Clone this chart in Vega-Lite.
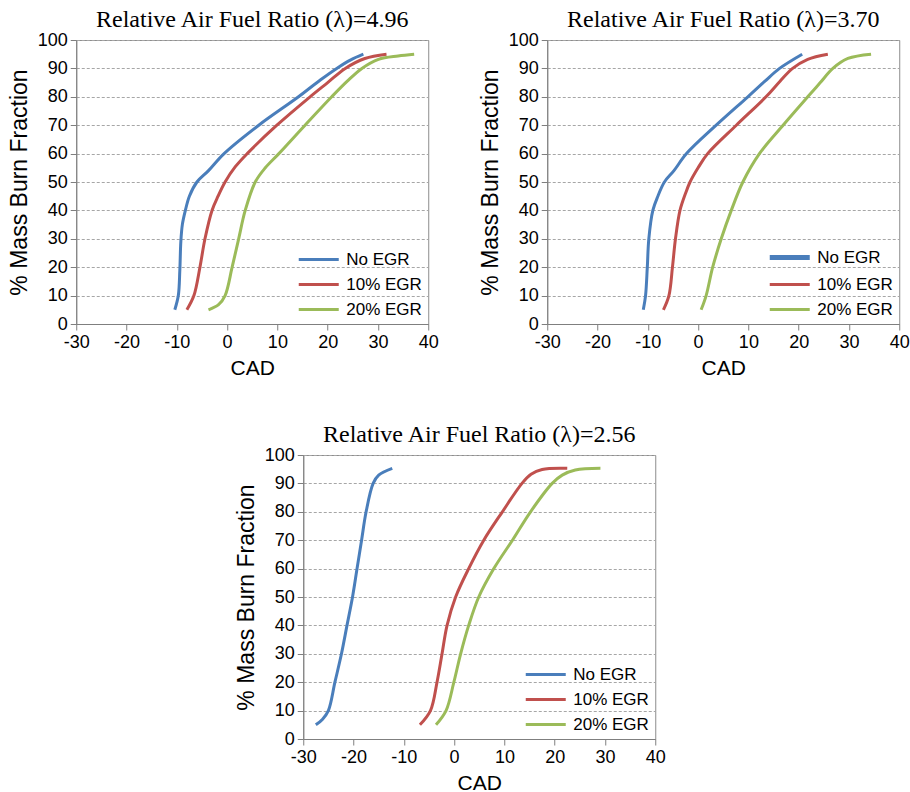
{
"$schema": "https://vega.github.io/schema/vega-lite/v6.json",
"padding": {"left": 7, "top": 7, "right": 0, "bottom": 0},
"background": "white",
"data": {"values": [
{"p":"A","s":"No EGR","x":-10.4,"y":5},{"p":"A","s":"No EGR","x":-9.7,"y":10},{"p":"A","s":"No EGR","x":-9.4,"y":19},{"p":"A","s":"No EGR","x":-9.2,"y":29},{"p":"A","s":"No EGR","x":-8.9,"y":35},{"p":"A","s":"No EGR","x":-8.3,"y":40},{"p":"A","s":"No EGR","x":-7.5,"y":45},{"p":"A","s":"No EGR","x":-6.0,"y":50},{"p":"A","s":"No EGR","x":-3.7,"y":54},{"p":"A","s":"No EGR","x":-0.6,"y":60},{"p":"A","s":"No EGR","x":6.3,"y":70},{"p":"A","s":"No EGR","x":14.2,"y":80},{"p":"A","s":"No EGR","x":18.6,"y":86},{"p":"A","s":"No EGR","x":21.8,"y":90},{"p":"A","s":"No EGR","x":24.6,"y":93},{"p":"A","s":"No EGR","x":27.1,"y":95},
{"p":"A","s":"10% EGR","x":-8.0,"y":5},{"p":"A","s":"10% EGR","x":-6.6,"y":10},{"p":"A","s":"10% EGR","x":-5.4,"y":20},{"p":"A","s":"10% EGR","x":-4.4,"y":30},{"p":"A","s":"10% EGR","x":-3.0,"y":40},{"p":"A","s":"10% EGR","x":-1.8,"y":45},{"p":"A","s":"10% EGR","x":-0.4,"y":50},{"p":"A","s":"10% EGR","x":1.6,"y":55.3},{"p":"A","s":"10% EGR","x":4.0,"y":60},{"p":"A","s":"10% EGR","x":9.9,"y":70},{"p":"A","s":"10% EGR","x":16.5,"y":80},{"p":"A","s":"10% EGR","x":20.0,"y":85},{"p":"A","s":"10% EGR","x":23.5,"y":90},{"p":"A","s":"10% EGR","x":27.4,"y":93.5},{"p":"A","s":"10% EGR","x":31.7,"y":95},
{"p":"A","s":"20% EGR","x":-3.7,"y":5},{"p":"A","s":"20% EGR","x":-1.7,"y":6.8},{"p":"A","s":"20% EGR","x":-0.4,"y":10},{"p":"A","s":"20% EGR","x":1.0,"y":20},{"p":"A","s":"20% EGR","x":2.3,"y":30},{"p":"A","s":"20% EGR","x":3.6,"y":40},{"p":"A","s":"20% EGR","x":5.6,"y":50},{"p":"A","s":"20% EGR","x":7.6,"y":55},{"p":"A","s":"20% EGR","x":10.3,"y":60},{"p":"A","s":"20% EGR","x":15.5,"y":70},{"p":"A","s":"20% EGR","x":20.8,"y":80},{"p":"A","s":"20% EGR","x":23.9,"y":85.5},{"p":"A","s":"20% EGR","x":26.8,"y":90},{"p":"A","s":"20% EGR","x":30.1,"y":93.2},{"p":"A","s":"20% EGR","x":34.0,"y":94.4},{"p":"A","s":"20% EGR","x":37.2,"y":95},
{"p":"B","s":"No EGR","x":-10.9,"y":5},{"p":"B","s":"No EGR","x":-10.45,"y":10},{"p":"B","s":"No EGR","x":-10.1,"y":20},{"p":"B","s":"No EGR","x":-9.8,"y":30},{"p":"B","s":"No EGR","x":-9.0,"y":40},{"p":"B","s":"No EGR","x":-8.0,"y":45},{"p":"B","s":"No EGR","x":-6.7,"y":50},{"p":"B","s":"No EGR","x":-4.8,"y":54},{"p":"B","s":"No EGR","x":-2.3,"y":60},{"p":"B","s":"No EGR","x":3.6,"y":70},{"p":"B","s":"No EGR","x":9.9,"y":80},{"p":"B","s":"No EGR","x":13.3,"y":85.5},{"p":"B","s":"No EGR","x":16.2,"y":90},{"p":"B","s":"No EGR","x":20.7,"y":95},
{"p":"B","s":"10% EGR","x":-6.9,"y":5},{"p":"B","s":"10% EGR","x":-5.8,"y":10},{"p":"B","s":"10% EGR","x":-5.1,"y":20},{"p":"B","s":"10% EGR","x":-4.5,"y":30},{"p":"B","s":"10% EGR","x":-3.6,"y":40},{"p":"B","s":"10% EGR","x":-2.5,"y":46},{"p":"B","s":"10% EGR","x":-1.6,"y":50},{"p":"B","s":"10% EGR","x":0.0,"y":55},{"p":"B","s":"10% EGR","x":1.9,"y":60},{"p":"B","s":"10% EGR","x":7.6,"y":70},{"p":"B","s":"10% EGR","x":13.5,"y":80},{"p":"B","s":"10% EGR","x":16.3,"y":85.5},{"p":"B","s":"10% EGR","x":18.8,"y":90},{"p":"B","s":"10% EGR","x":21.8,"y":93.2},{"p":"B","s":"10% EGR","x":25.8,"y":95},
{"p":"B","s":"20% EGR","x":0.6,"y":5},{"p":"B","s":"20% EGR","x":1.6,"y":10},{"p":"B","s":"20% EGR","x":2.9,"y":20},{"p":"B","s":"20% EGR","x":4.6,"y":30},{"p":"B","s":"20% EGR","x":6.6,"y":40},{"p":"B","s":"20% EGR","x":8.9,"y":50},{"p":"B","s":"20% EGR","x":12.2,"y":60},{"p":"B","s":"20% EGR","x":16.9,"y":70},{"p":"B","s":"20% EGR","x":21.8,"y":80},{"p":"B","s":"20% EGR","x":24.3,"y":85},{"p":"B","s":"20% EGR","x":26.8,"y":90},{"p":"B","s":"20% EGR","x":29.8,"y":93.5},{"p":"B","s":"20% EGR","x":34.4,"y":95},
{"p":"C","s":"No EGR","x":-27.5,"y":5},{"p":"C","s":"No EGR","x":-26.2,"y":6.9},{"p":"C","s":"No EGR","x":-25.0,"y":10},{"p":"C","s":"No EGR","x":-23.7,"y":20},{"p":"C","s":"No EGR","x":-22.4,"y":30},{"p":"C","s":"No EGR","x":-21.3,"y":40},{"p":"C","s":"No EGR","x":-20.2,"y":50},{"p":"C","s":"No EGR","x":-19.3,"y":60},{"p":"C","s":"No EGR","x":-18.4,"y":70},{"p":"C","s":"No EGR","x":-17.5,"y":80},{"p":"C","s":"No EGR","x":-16.1,"y":90},{"p":"C","s":"No EGR","x":-15.0,"y":92.9},{"p":"C","s":"No EGR","x":-12.3,"y":95.3},
{"p":"C","s":"10% EGR","x":-6.8,"y":5},{"p":"C","s":"10% EGR","x":-4.7,"y":10},{"p":"C","s":"10% EGR","x":-3.4,"y":20},{"p":"C","s":"10% EGR","x":-2.4,"y":30},{"p":"C","s":"10% EGR","x":-1.4,"y":40},{"p":"C","s":"10% EGR","x":0.3,"y":50},{"p":"C","s":"10% EGR","x":2.9,"y":60},{"p":"C","s":"10% EGR","x":5.9,"y":70},{"p":"C","s":"10% EGR","x":9.6,"y":80},{"p":"C","s":"10% EGR","x":13.5,"y":90},{"p":"C","s":"10% EGR","x":15.3,"y":93.2},{"p":"C","s":"10% EGR","x":17.5,"y":94.9},{"p":"C","s":"10% EGR","x":22.5,"y":95.3},
{"p":"C","s":"20% EGR","x":-3.6,"y":5},{"p":"C","s":"20% EGR","x":-1.6,"y":10},{"p":"C","s":"20% EGR","x":-0.05,"y":20},{"p":"C","s":"20% EGR","x":1.3,"y":30},{"p":"C","s":"20% EGR","x":2.9,"y":40},{"p":"C","s":"20% EGR","x":4.9,"y":50},{"p":"C","s":"20% EGR","x":7.9,"y":60},{"p":"C","s":"20% EGR","x":11.6,"y":70},{"p":"C","s":"20% EGR","x":15.2,"y":80},{"p":"C","s":"20% EGR","x":19.5,"y":90},{"p":"C","s":"20% EGR","x":21.5,"y":92.9},{"p":"C","s":"20% EGR","x":24.1,"y":94.7},{"p":"C","s":"20% EGR","x":29.1,"y":95.3}
]},
"vconcat": [
 {"hconcat": [
  {"width": 352, "height": 284,
   "title": "Relative Air Fuel Ratio (λ)=4.96",
   "transform": [{"filter": "datum.p === 'A'"}],
   "mark": {"type": "line", "interpolate": "catmull-rom", "strokeWidth": 3},
   "encoding": {
    "x": {"field": "x", "type": "quantitative", "scale": {"domain": [-30, 40], "nice": false}, "axis": {"values": [-30,-20,-10,0,10,20,30,40], "grid": false, "title": "CAD"}},
    "y": {"field": "y", "type": "quantitative", "scale": {"domain": [0, 100], "nice": false}, "axis": {"values": [0,10,20,30,40,50,60,70,80,90,100], "grid": true, "title": "% Mass Burn Fraction", "titleFontSize": 23}},
    "color": {"field": "s", "type": "nominal", "scale": {"domain": ["No EGR","10% EGR","20% EGR"], "range": ["#4a7ebb","#c0504d","#9bbb59"]}, "legend": {"title": null}},
    "order": {"field": "y", "type": "quantitative"}
   }},
  {"width": 352, "height": 284,
   "title": "Relative Air Fuel Ratio (λ)=3.70",
   "transform": [{"filter": "datum.p === 'B'"}],
   "mark": {"type": "line", "interpolate": "catmull-rom", "strokeWidth": 3},
   "encoding": {
    "x": {"field": "x", "type": "quantitative", "scale": {"domain": [-30, 40], "nice": false}, "axis": {"values": [-30,-20,-10,0,10,20,30,40], "grid": false, "title": "CAD"}},
    "y": {"field": "y", "type": "quantitative", "scale": {"domain": [0, 100], "nice": false}, "axis": {"values": [0,10,20,30,40,50,60,70,80,90,100], "grid": true, "title": "% Mass Burn Fraction", "titleFontSize": 23}},
    "color": {"field": "s", "type": "nominal", "scale": {"domain": ["No EGR","10% EGR","20% EGR"], "range": ["#4a7ebb","#c0504d","#9bbb59"]}, "legend": {"title": null, "encode": {"symbols": {"update": {"strokeWidth": {"signal": "datum.label === 'No EGR' ? 5 : 3"}}}}}},
    "strokeWidth": {"condition": {"test": "datum.s === 'No EGR'", "value": 5}, "value": 3},
    "order": {"field": "y", "type": "quantitative"}
   }}
 ], "spacing": 39, "resolve": {"scale": {"color": "independent"}, "legend": {"color": "independent"}}},
 {"width": 352, "height": 284,
   "title": "Relative Air Fuel Ratio (λ)=2.56",
   "transform": [{"filter": "datum.p === 'C'"}],
   "layer": [
    {"mark": {"type": "line", "interpolate": "catmull-rom", "strokeWidth": 3},
     "encoding": {
      "x": {"field": "x", "type": "quantitative", "scale": {"domain": [-30, 40], "nice": false}, "axis": {"values": [-30,-20,-10,0,10,20,30,40], "grid": false, "title": "CAD"}},
      "y": {"field": "y", "type": "quantitative", "scale": {"domain": [0, 100], "nice": false}, "axis": {"values": [0,10,20,30,40,50,60,70,80,90,100], "grid": true, "title": "% Mass Burn Fraction", "titleFontSize": 23}},
      "color": {"field": "s", "type": "nominal", "scale": {"domain": ["No EGR","10% EGR","20% EGR"], "range": ["#4a7ebb","#c0504d","#9bbb59"]}, "legend": {"title": null}},
      "order": {"field": "y", "type": "quantitative"}
     }},
    {"mark": {"type": "rule", "opacity": 0},
     "encoding": {
      "y": {"field": "y", "type": "quantitative", "scale": {"domain": [0, 100], "nice": false}, "axis": {"orient": "right", "labels": false, "ticks": false, "domain": false, "grid": false, "title": "I", "titleColor": "transparent", "titleFontSize": 10, "titlePadding": 17}}
     }}
   ],
   "resolve": {"scale": {"y": "independent"}, "axis": {"y": "independent"}}
 }
],
"spacing": 43,
"center": true,
"resolve": {"scale": {"color": "independent"}, "legend": {"color": "independent"}},
"config": {
 "view": {"stroke": "#8c8c8c", "strokeWidth": 1},
 "title": {"font": "Liberation Serif", "fontSize": 24, "fontWeight": "normal", "color": "#000000", "offset": -1},
 "axis": {"labelFont": "Liberation Sans", "labelFontSize": 18, "labelColor": "#000000", "labelFlush": false, "labelExpr": "'' + datum.value", "titleFont": "Liberation Sans", "titleFontSize": 21, "titleFontWeight": "normal", "titleColor": "#000000", "domainColor": "#7f7f7f", "tickColor": "#7f7f7f", "tickSize": 6, "labelPadding": 3, "titlePadding": 6, "gridColor": "#a6a6a6", "gridDash": [3, 2], "gridWidth": 1},
 "legend": {"orient": "bottom-right", "offset": 6, "padding": 0, "labelFont": "Liberation Sans", "labelFontSize": 17, "labelColor": "#000000", "symbolType": "M-4,0H4", "symbolSize": 100, "symbolStrokeWidth": 3, "symbolOffset": 20, "labelOffset": 19, "rowPadding": 7}
}
}
